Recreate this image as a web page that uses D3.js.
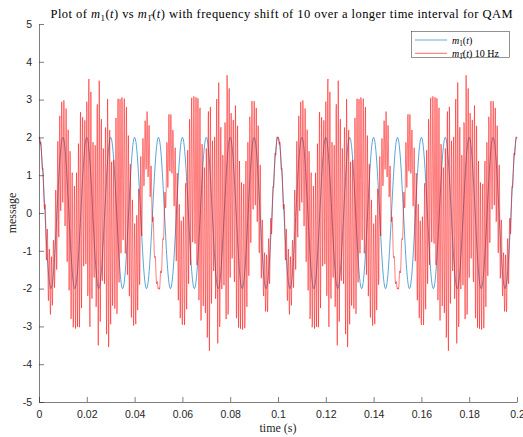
<!DOCTYPE html>
<html><head><meta charset="utf-8">
<script src="https://cdn.jsdelivr.net/npm/d3@7"></script>
<style>body{margin:0;background:#fff}svg{display:block}</style>
</head><body>
<svg id="chart" width="523" height="437"></svg>
<script>
// ---- data ----
const timeRange = [0, 0.2];
const sampleRate = [10000];
const messageAmplitude = [2];
const messageFrequency = [100];
const quadratureAmplitudes = [2.6, 0.55, 0.4];
const quadratureFrequencies = [1150, 1390, 870];
const frequencyShift = [10];
const xTickValues = [0, 0.02, 0.04, 0.06, 0.08, 0.1, 0.12, 0.14, 0.16, 0.18, 0.2];
const xTickLabels = ["0", "0.02", "0.04", "0.06", "0.08", "0.1", "0.12", "0.14", "0.16", "0.18", "0.2"];
const yTickValues = [-5, -4, -3, -2, -1, 0, 1, 2, 3, 4, 5];
const yTickLabels = ["-5", "-4", "-3", "-2", "-1", "0", "1", "2", "3", "4", "5"];
const seriesColors = ["#0072BD", "#FF0000"];

// ---- signals ----
const n = Math.round((timeRange[1] - timeRange[0]) * sampleRate[0]);
const time = d3.range(n + 1).map(i => timeRange[0] + i / sampleRate[0]);
const m1 = time.map(t => messageAmplitude[0] * Math.cos(2 * Math.PI * messageFrequency[0] * t));
const m2 = time.map(t => d3.sum(quadratureAmplitudes, (a, k) => a * Math.cos(2 * Math.PI * quadratureFrequencies[k] * t)));
const m1hat = time.map((t, i) => m1[i] * Math.cos(2 * Math.PI * frequencyShift[0] * t) + m2[i] * Math.sin(2 * Math.PI * frequencyShift[0] * t));

const svg = d3.select("#chart");
const margin = {left: 39, right: 6, top: 24, bottom: 35};
const W = 523, H = 437;
const x = d3.scaleLinear().domain([0, 0.2]).range([margin.left, W - margin.right]);
const y = d3.scaleLinear().domain([-5, 5]).range([H - margin.bottom, margin.top]);

const axisColor = "#262626";

// lines
const line = d3.line().x((d, i) => x(time[i])).y(d => y(d));
const plot = svg.append("g");
plot.append("path").datum(m1).attr("d", line).attr("fill", "none")
  .attr("stroke", seriesColors[0]).attr("stroke-width", 0.65);
plot.append("path").datum(m1hat).attr("d", line).attr("fill", "none")
  .attr("stroke", seriesColors[1]).attr("stroke-width", 0.5);

// axes
const xAxis = d3.axisBottom(x).tickValues(xTickValues).tickFormat((d, i) => xTickLabels[i]).tickSizeInner(-5).tickSizeOuter(0).tickPadding(9);
const yAxis = d3.axisLeft(y).tickValues(yTickValues).tickFormat((d, i) => yTickLabels[i]).tickSizeInner(-5).tickSizeOuter(0).tickPadding(7);
const gx = svg.append("g").attr("transform", `translate(0,${y(-5)})`).call(xAxis);
const gy = svg.append("g").attr("transform", `translate(${x(0)},0)`).call(yAxis);
[gx, gy].forEach(g => {
  g.select(".domain").attr("stroke", axisColor).attr("stroke-width", 0.6);
  g.selectAll(".tick line").attr("stroke", axisColor).attr("stroke-width", 0.6);
  g.selectAll(".tick text").attr("fill", axisColor).style("font-family", "'Liberation Sans', Arial, sans-serif").style("font-size", "10.5px");
});

const serif = "'Liberation Serif', 'DejaVu Serif', serif";

// math label helper: m_1(t) with optional hat (combining circumflex)
function mathLabel(sel, hat, suffix, size) {
  sel.append("tspan").text("m").style("font-style", "italic");
  sel.append("tspan").text(hat ? "1\u0302" : "1").attr("dy", size * 0.25).style("font-size", (size * 0.72) + "px");
  sel.append("tspan").text("(").attr("dy", -size * 0.25);
  sel.append("tspan").text("t").style("font-style", "italic");
  sel.append("tspan").text(")" + suffix);
}

// title
const titleSize = 12.5;
const title = svg.append("text").attr("x", 281.5).attr("y", 18)
  .attr("text-anchor", "middle").attr("fill", "#000")
  .attr("textLength", 462).attr("lengthAdjust", "spacing")
  .style("font-family", serif).style("font-size", titleSize + "px");
title.append("tspan").text("Plot of ");
mathLabel(title, false, " vs ", titleSize);
mathLabel(title, true, " with frequency shift of 10 over a longer time interval for QAM", titleSize);

// axis labels
svg.append("text").attr("x", (x(0) + x(0.2)) / 2).attr("y", 432).attr("text-anchor", "middle")
  .style("font-family", serif).style("font-size", "12px").attr("fill", axisColor).text("time (s)");
svg.append("text").attr("transform", `translate(16,${y(0)}) rotate(-90)`).attr("text-anchor", "middle")
  .style("font-family", serif).style("font-size", "12px").attr("fill", axisColor).text("message");

// legend
const lg = svg.append("g");
lg.append("rect").attr("x", 411.5).attr("y", 31.5).attr("width", 98).attr("height", 26)
  .attr("fill", "#fff").attr("stroke", "#262626").attr("stroke-width", 0.5);
const legendRows = [{hat: false, suffix: ""}, {hat: true, suffix: " 10 Hz"}];
legendRows.forEach((r, i) => {
  const yy = 40 + i * 13.3;
  lg.append("line").attr("x1", 415).attr("x2", 447).attr("y1", yy).attr("y2", yy)
    .attr("stroke", seriesColors[i]).attr("stroke-width", 0.6);
  const t = lg.append("text").attr("x", 452).attr("y", yy + 3.5)
    .style("font-family", serif).style("font-size", "10px").attr("fill", "#000");
  mathLabel(t, r.hat, r.suffix, 10);
});
</script>
</body></html>
